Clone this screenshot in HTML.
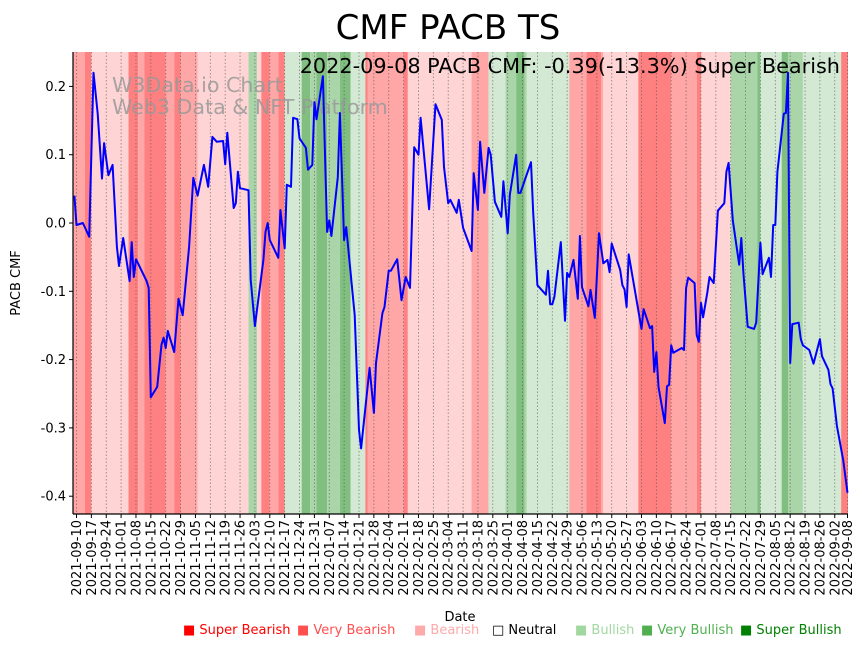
<!DOCTYPE html>
<html><head><meta charset="utf-8"><style>
body{margin:0;background:#fff;}
svg{display:block;font-family:"DejaVu Sans","Liberation Sans",sans-serif;}
</style></head><body>
<svg id="chart" width="867" height="646" viewBox="0 0 867 646" xmlns="http://www.w3.org/2000/svg">
<g id="bands"></g>
<g id="grid"></g>
<text x="112" y="92" font-size="20.6" fill="#999" fill-opacity="0.85">W3Data.io Chart</text>
<text x="112" y="114" font-size="20.6" fill="#999" fill-opacity="0.85">Web3 Data &amp; NFT Platform</text>
<path id="line" fill="none" stroke="#0000ff" stroke-width="2" stroke-linejoin="round"/>
<g id="axes"></g>
<text x="448" y="39" font-size="34" text-anchor="middle" fill="#000">CMF PACB TS</text>
<text x="840" y="73" font-size="20.8" text-anchor="end" fill="#000">2022-09-08 PACB CMF: -0.39(-13.3%) Super Bearish</text>
<text transform="translate(20,283) rotate(-90)" font-size="13" text-anchor="middle">PACB CMF</text>
<text x="460" y="621" font-size="13" text-anchor="middle">Date</text>
<g font-size="13">
<text x="183" y="634" fill="#ff0000">■ Super Bearish</text>
<text x="297" y="634" fill="#ff5050">■ Very Bearish</text>
<text x="414" y="634" fill="#ffaaaa">■ Bearish</text>
<text x="492" y="634" fill="#000">□ Neutral</text>
<text x="575" y="634" fill="#a0d8a0">■ Bullish</text>
<text x="641" y="634" fill="#50b050">■ Very Bullish</text>
<text x="740" y="634" fill="#008000">■ Super Bullish</text>
</g>
</svg>
<script>
// day offsets from 2021-09-10
const days=[-1,0,3,6,8,10,12,13,15,17,19,20,22,25,26,27,28,33,34,35,38,40,41,42,43,46,48,50,53,55,57,60,62,64,66,69,70,71,74,75,76,77,81,82,84,88,89,90,91,95,96,98,99,101,102,104,105,108,109,111,112,113,116,118,119,120,123,124,126,127,131,133,134,138,140,141,144,145,147,148,151,153,155,157,159,161,162,166,169,172,173,175,176,179,180,182,186,187,189,190,192,194,195,197,200,201,203,204,207,208,209,214,215,217,221,222,223,224,225,228,230,231,232,234,236,237,238,241,242,244,246,248,250,251,252,256,257,258,259,260,266,267,270,271,272,273,274,277,278,279,280,281,285,286,287,288,291,292,293,294,295,297,298,300,302,305,306,307,309,312,313,314,316,319,320,322,323,326,327,328,329,330,333,334,335,336,337,340,341,342,345,347,350,351,354,355,356,358,361,363];
const values=[0.04,-0.003,0.0,-0.02,0.22,0.16,0.065,0.117,0.07,0.085,-0.035,-0.063,-0.022,-0.085,-0.028,-0.079,-0.053,-0.085,-0.095,-0.255,-0.24,-0.178,-0.168,-0.183,-0.158,-0.189,-0.111,-0.135,-0.035,0.066,0.04,0.085,0.053,0.126,0.119,0.12,0.086,0.132,0.022,0.029,0.075,0.051,0.048,-0.083,-0.151,-0.054,-0.013,0.0,-0.025,-0.051,0.019,-0.037,0.056,0.053,0.154,0.152,0.124,0.11,0.078,0.085,0.177,0.152,0.215,-0.013,0.004,-0.019,0.067,0.161,-0.025,-0.006,-0.135,-0.303,-0.33,-0.212,-0.278,-0.205,-0.132,-0.123,-0.07,-0.07,-0.053,-0.113,-0.079,-0.095,0.111,0.1,0.154,0.02,0.174,0.151,0.082,0.029,0.034,0.015,0.034,-0.007,-0.041,0.073,0.019,0.119,0.044,0.11,0.1,0.031,0.009,0.061,-0.015,0.041,0.1,0.044,0.044,0.089,0.015,-0.091,-0.105,-0.07,-0.119,-0.119,-0.108,-0.028,-0.143,-0.073,-0.079,-0.054,-0.111,-0.019,-0.094,-0.122,-0.098,-0.139,-0.015,-0.059,-0.054,-0.072,-0.03,-0.069,-0.091,-0.097,-0.123,-0.046,-0.155,-0.126,-0.154,-0.151,-0.218,-0.189,-0.24,-0.293,-0.239,-0.237,-0.179,-0.19,-0.183,-0.186,-0.095,-0.08,-0.088,-0.164,-0.174,-0.117,-0.138,-0.102,-0.079,-0.088,0.018,0.029,0.075,0.088,0.004,-0.061,-0.022,-0.073,-0.152,-0.155,-0.146,-0.029,-0.075,-0.051,-0.079,-0.003,-0.003,0.075,0.16,0.161,0.22,-0.205,-0.148,-0.146,-0.17,-0.179,-0.186,-0.206,-0.17,-0.195,-0.215,-0.236,-0.242,-0.297,-0.348,-0.395];
// sentiment band start days and classes (s=super bearish,v=very bearish,b=bearish,g=bullish,V=very bullish,S=super bullish)
const bandStarts=[-1.5,4,7,24.5,29,32,42,46,49,57,81,85,87,91,95,98,106,110,113,118,124,129,136,137,154,156,186,194,202,207,211,212,232,240,247,248,264.5,280,292,294,308,320.5,322,332,335,342,360];
const bandClasses=["v","s","b","s","v","s","v","s","v","b","V","b","s","v","s","g","S","V","S","V","S","g","s","v","s","b","v","g","V","S","V","g","v","s","v","b","s","v","s","b","V","S","g","S","V","g","s"];
const bandEnd=364.5;
const yTicks=[0.2,0.1,0.0,-0.1,-0.2,-0.3,-0.4];
const lastLabel="2022-09-08", lastDay=363;

const NS="http://www.w3.org/2000/svg";
const X0=76.5, PX=2.124, L=73, R=848, T=52, B=514;
const xs=d=>X0+d*PX, ys=v=>223-v*683;
const colors={s:"#ff8080",v:"#ffa6a6",b:"#ffd4d4",g:"#d4e9d4",V:"#a9d5a9",S:"#80bf80"};
function mk(t,p,a){const e=document.createElementNS(NS,t);for(const k in a)e.setAttribute(k,a[k]);p.appendChild(e);return e;}
const bands=document.getElementById('bands');
bandStarts.forEach((s,i)=>{
  const e=i+1<bandStarts.length?bandStarts[i+1]:bandEnd;
  const x1=Math.max(L,xs(s)),x2=Math.min(R,xs(e));
  const r=mk('rect',bands,{x:x1,y:T,width:x2-x1,height:B-T,fill:colors[bandClasses[i]]});
  
  
});
const grid=document.getElementById('grid'), axes=document.getElementById('axes');
const start=new Date(Date.UTC(2021,8,10));
const fmt=d=>d.toISOString().slice(0,10);
const tickDays=[];for(let d=0;d<=357;d+=7)tickDays.push(d);tickDays.push(lastDay);
tickDays.forEach((d,i)=>{
  const x=Math.min(xs(d),R);
  const gl=mk('line',grid,{x1:x,x2:x,y1:T,y2:B,stroke:"#555","stroke-width":0.8,"stroke-dasharray":"1.5,2","stroke-opacity":0.7});
  
  
  mk('line',axes,{x1:x,x2:x,y1:B,y2:B+4,stroke:"#000","stroke-width":1});
  const lab=i===tickDays.length-1?lastLabel:fmt(new Date(start.getTime()+d*864e5));
  const t=mk('text',axes,{transform:`translate(${x+4.5},${B+6}) rotate(-90)`,"font-size":13,"text-anchor":"end"});
  
  
  t.textContent=lab;
});
yTicks.forEach(v=>{
  const y=ys(v);
  mk('line',axes,{x1:L-4,x2:L,y1:y,y2:y,stroke:"#000","stroke-width":1});
  const t=mk('text',axes,{x:L-7,y:y+4.5,"font-size":13,"text-anchor":"end"});
  
  
  t.textContent=v.toFixed(1);
});
mk('line',axes,{x1:L,x2:L,y1:T,y2:B,stroke:"#000","stroke-width":1.2});
mk('line',axes,{x1:L,x2:R,y1:B,y2:B,stroke:"#000","stroke-width":1.2});
document.getElementById('line').setAttribute('d',days.map((d,i)=>(i?'L':'M')+Math.max(L+1,xs(d)).toFixed(1)+','+ys(values[i]).toFixed(1)).join(''));
</script>
</body></html>
